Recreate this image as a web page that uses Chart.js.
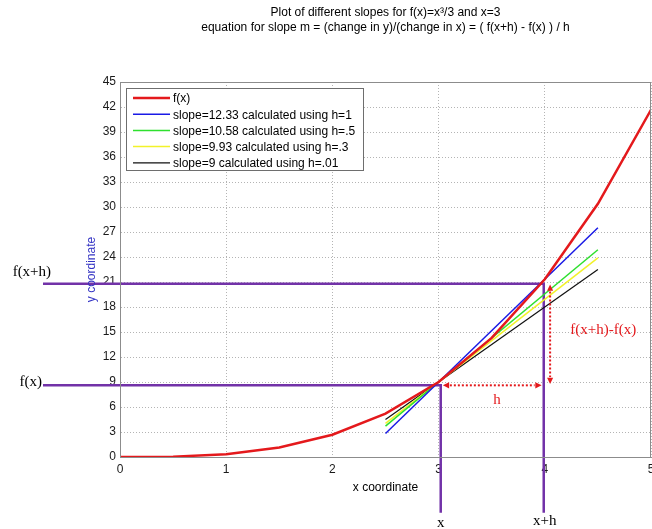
<!DOCTYPE html>
<html>
<head>
<meta charset="utf-8">
<script src="https://cdn.jsdelivr.net/npm/chart.js@4.4.0/dist/chart.umd.min.js"></script>
<style>
  body { margin: 0; background: #fff; }
  #wrap { width: 652px; height: 529px; }
</style>
</head>
<body>
<div id="wrap"><canvas id="slopeChart" width="652" height="529"></canvas></div>
<script>
// data
var titleLines = ['Plot of different slopes for f(x)=x\u00b3/3 and x=3',
                  'equation for slope m = (change in y)/(change in x) = ( f(x+h) - f(x) ) / h'];
var curveX = [0, 0.5, 1, 1.5, 2, 2.5, 3, 3.5, 4, 4.5, 5];
var curveY = [0, 0.04, 0.33, 1.13, 2.67, 5.21, 9, 14.29, 21.33, 30.38, 41.67];
var slopeX = [2.5, 4.5];
var blueY = [2.83, 27.5];
var greenY = [3.71, 24.87];
var yellowY = [4.04, 23.9];
var blackY = [4.5, 22.5];
var legendLabels = ['f(x)', 'slope=12.33 calculated using h=1', 'slope=10.58 calculated using h=.5',
                    'slope=9.93 calculated using h=.3', 'slope=9 calculated using h=.01'];
// hand drawn guide lines (purple) and notes
var guideHiX = [-0.725, 3.99, 3.99];
var guideHiY = [20.8, 20.8, -6.7];
var guideLoX = [-0.725, 3.02, 3.02];
var guideLoY = [8.6, 8.6, -6.7];
var arrowX1 = [3.04, 4.05];
var arrowY1 = [8.6, 20.7];
var arrowX2 = [3.97, 4.05];
var arrowY2 = [8.6, 8.75];
var noteText = ['f(x+h)', 'f(x)', 'x', 'x+h'];
var noteX = [-0.83, -0.84, 3.02, 4.0];
var noteY = [22.2, 9.0, -7.9, -7.7];
var redNoteText = ['h', 'f(x+h)-f(x)'];
var redNoteX = [3.55, 4.55];
var redNoteY = [6.84, 15.2];

function pts(xs, ys) {
  var out = [];
  for (var i = 0; i < xs.length; i++) out.push({x: xs[i], y: ys[i]});
  return out;
}

var purple = '#7232a8';
var redCol = '#e4191c';

var extras = {
  id: 'extras',
  beforeDraw: function(chart) {
    var c = chart.ctx;
    c.save();
    c.fillStyle = '#fff';
    c.fillRect(0, 0, chart.width, chart.height);
    c.restore();
  },
  afterDatasetsDraw: function(chart) {
    var c = chart.ctx, a = chart.chartArea;
    var xs = chart.scales.x, ys = chart.scales.y;
    c.save();
    // box
    c.strokeStyle = '#8c8c8c';
    c.lineWidth = 1;
    c.setLineDash([]);
    c.strokeRect(Math.round(a.left) + 0.5, Math.round(a.top) + 0.5,
                 Math.round(a.right - a.left) - 1, Math.round(a.bottom - a.top));

    // titles
    c.fillStyle = '#000';
    c.font = '12px "Liberation Sans", Arial, sans-serif';
    c.textAlign = 'center';
    c.textBaseline = 'middle';
    var cx = (a.left + a.right) / 2;
    c.fillText(titleLines[0], cx, 13);
    c.fillText(titleLines[1], cx, 28);
    c.fillText('x coordinate', cx, 488);

    c.save();
    c.translate(92, (a.top + a.bottom) / 2);
    c.rotate(-Math.PI / 2);
    c.fillStyle = '#3434c4';
    c.fillText('y coordinate', 0, 0);
    c.restore();

    // legend
    var lx = 126, ly = 88, lw = 237, lh = 82;
    c.fillStyle = '#fff';
    c.fillRect(lx, ly, lw, lh);
    c.strokeStyle = '#6e6e6e';
    c.strokeRect(lx + 0.5, ly + 0.5, lw, lh);
    c.textAlign = 'left';
    c.font = '12px "Liberation Sans", Arial, sans-serif';
    for (var i = 0; i < legendLabels.length; i++) {
      var ds = chart.data.datasets[i];
      var yy = 98 + i * 16.2;
      c.strokeStyle = ds.borderColor;
      c.lineWidth = ds.borderWidth;
      c.beginPath();
      c.moveTo(133, yy);
      c.lineTo(170, yy);
      c.stroke();
      c.fillStyle = '#000';
      c.fillText(legendLabels[i], 173, yy + 1);
    }

    // red dotted arrows
    c.strokeStyle = redCol;
    c.fillStyle = redCol;
    for (var k = 0; k < arrowX1.length; k++) {
      var x1 = xs.getPixelForValue(arrowX1[k]), y1 = ys.getPixelForValue(arrowY1[k]);
      var x2 = xs.getPixelForValue(arrowX2[k]), y2 = ys.getPixelForValue(arrowY2[k]);
      var ang = Math.atan2(y2 - y1, x2 - x1);
      var hl = 7;
      c.lineWidth = 2;
      c.setLineDash([2, 2]);
      c.beginPath();
      c.moveTo(x1 + Math.cos(ang) * hl, y1 + Math.sin(ang) * hl);
      c.lineTo(x2 - Math.cos(ang) * hl, y2 - Math.sin(ang) * hl);
      c.stroke();
      c.setLineDash([]);
      [[x1, y1, ang + Math.PI], [x2, y2, ang]].forEach(function(h) {
        c.beginPath();
        c.moveTo(h[0], h[1]);
        c.lineTo(h[0] - Math.cos(h[2] - 0.45) * hl, h[1] - Math.sin(h[2] - 0.45) * hl);
        c.lineTo(h[0] - Math.cos(h[2] + 0.45) * hl, h[1] - Math.sin(h[2] + 0.45) * hl);
        c.closePath();
        c.fill();
      });
    }

    // serif notes
    c.textAlign = 'center';
    c.font = '15px "Liberation Serif", "Times New Roman", serif';
    c.fillStyle = '#000';
    for (var n = 0; n < noteText.length; n++) {
      c.fillText(noteText[n], xs.getPixelForValue(noteX[n]), ys.getPixelForValue(noteY[n]));
    }
    c.fillStyle = redCol;
    for (var m = 0; m < redNoteText.length; m++) {
      c.fillText(redNoteText[m], xs.getPixelForValue(redNoteX[m]), ys.getPixelForValue(redNoteY[m]));
    }
    c.restore();
  }
};

var ctx = document.getElementById('slopeChart').getContext('2d');
var slopeChart = new Chart(ctx, {
  type: 'line',
  data: {
    datasets: [
      { label: legendLabels[0], data: pts(curveX, curveY), borderColor: redCol, borderWidth: 2.5, pointRadius: 0, tension: 0 },
      { label: legendLabels[1], data: pts(slopeX, blueY), borderColor: '#1a1ae6', borderWidth: 1.5, pointRadius: 0 },
      { label: legendLabels[2], data: pts(slopeX, greenY), borderColor: '#2ee02e', borderWidth: 1.5, pointRadius: 0 },
      { label: legendLabels[3], data: pts(slopeX, yellowY), borderColor: '#f2f22a', borderWidth: 1.5, pointRadius: 0 },
      { label: legendLabels[4], data: pts(slopeX, blackY), borderColor: '#111', borderWidth: 1.2, pointRadius: 0 },
      { label: 'guide f(x+h)', data: pts(guideHiX, guideHiY), borderColor: purple, borderWidth: 2.5, pointRadius: 0, clip: false },
      { label: 'guide f(x)', data: pts(guideLoX, guideLoY), borderColor: purple, borderWidth: 2.5, pointRadius: 0, clip: false }
    ]
  },
  options: {
    responsive: false,
    animation: false,
    layout: { padding: { top: 82, right: 1, left: 0, bottom: 0 } },
    plugins: {
      legend: { display: false },
      title: { display: false },
      tooltip: { enabled: false }
    },
    scales: {
      x: {
        type: 'linear',
        min: 0, max: 5,
        afterFit: function(s) { s.height = 72; s.paddingRight = 0; s.paddingLeft = 0; },
        ticks: { stepSize: 1, padding: 5, color: '#1a1a1a', font: { size: 12, family: '"Liberation Sans", Arial, sans-serif' } },
        grid: { color: '#b4b4b4', drawTicks: false },
        border: { display: true, color: '#8c8c8c', dash: [1, 2] }
      },
      y: {
        min: 0, max: 45,
        afterFit: function(s) { s.width = 120; s.paddingTop = 0; s.paddingBottom = 0; },
        ticks: { stepSize: 3, padding: 4, color: '#1a1a1a', font: { size: 12, family: '"Liberation Sans", Arial, sans-serif' } },
        grid: { color: '#b4b4b4', drawTicks: false },
        border: { display: true, color: '#8c8c8c', dash: [1, 2] }
      }
    }
  },
  plugins: [extras]
});
</script>
</body>
</html>
